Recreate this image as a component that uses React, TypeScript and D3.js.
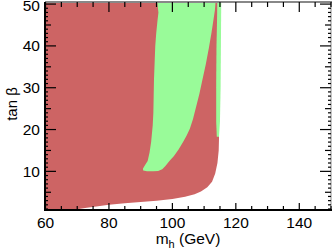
import React from "react";
import { scaleLinear, line, curveLinear, range } from "d3";

type Pt = [number, number];

// allowed (red) region: bottom edge and right edge, [m_h, tan beta]
const redEdge: Pt[] = [
  [70.5, 1.0], [73, 1.3], [76, 1.6], [80, 2.0], [85, 2.35], [90, 2.65],
  [95, 3.0], [100, 3.4], [104, 3.9], [107, 4.5], [109, 5.2], [111, 6.2],
  [112.5, 7.5], [113.5, 9.5], [114.2, 12], [114.6, 15], [114.7, 18],
  [114.5, 30], [114.4, 40], [114.3, 50.5],
];

// green region in the middle
const greenMain: Pt[] = [
  [95.2, 50.5], [95.6, 48], [95.3, 46], [94.9, 43], [94.6, 40], [94.4, 36],
  [94.2, 32], [94.1, 28], [94.0, 24], [93.8, 21], [93.3, 17], [92.8, 14.5],
  [92.2, 12.5], [91.3, 11.4], [90.7, 10.6], [90.8, 10.2], [92, 10.0],
  [94, 10.0], [95.5, 10.1], [96.8, 10.5], [97.8, 11.3], [99, 12.4],
  [100.5, 13.7], [102, 15.3], [103.5, 17.2], [104.5, 18.6], [105.5, 20.2],
  [106.5, 22.5], [107.5, 25.5], [108.5, 28.5], [109.5, 32], [110.5, 35.5],
  [111.5, 39.5], [112.3, 43], [113, 46.5], [113.4, 48.5], [113.6, 50.5],
];

// thin green strip right of the red wedge
const greenStrip: Pt[] = [
  [114.0, 18.3], [114.7, 18.3], [115.0, 22], [115.2, 30], [115.3, 40],
  [115.4, 50.5], [114.2, 50.5], [113.9, 40], [113.8, 30], [113.8, 22],
];

const xTicks = [60, 80, 100, 120, 140];
const yTicks = [10, 20, 30, 40, 50];

const W = 332;
const H = 249;
const font = "'Liberation Sans', Arial, Helvetica, sans-serif";

export default function App() {
  const x = scaleLinear().domain([60, 150]).range([45.5, 331]);
  const y = scaleLinear().domain([1, 50.5]).range([209, 2]);

  const path = line<Pt>()
    .x((d) => x(d[0]))
    .y((d) => y(d[1]))
    .curve(curveLinear);

  const redPoly: Pt[] = [[60, 50.5], [60, 1], ...redEdge];

  const xMinor = range(60, 151, 5);
  const yMinor = range(1, 51, 1);

  return (
    <svg
      width={W}
      height={H}
      style={{ position: "fixed", left: 0, top: 0, background: "#fff" }}
      fontFamily={font}
    >
      <path d={path(redPoly) + "Z"} fill="#cd6464" />
      <path d={path(greenMain) + "Z"} fill="#99fb99" />
      <path d={path(greenStrip) + "Z"} fill="#99fb99" />

      {/* frame: gray top/right, black left/bottom */}
      <line x1={45} x2={W} y1={2} y2={2} stroke="#888" strokeWidth={2} />
      <line x1={331} x2={331} y1={2} y2={210} stroke="#888" strokeWidth={1} />

      {/* bottom and top ticks */}
      {xMinor.map((v) => {
        const major = v % 20 === 0;
        return (
          <g key={"xt" + v}>
            <line x1={x(v)} x2={x(v)} y1={210} y2={210 - (major ? 7 : 4)} stroke="#000" strokeWidth={1.2} />
            <line x1={x(v)} x2={x(v)} y1={2} y2={2 + (major ? 10 : 5)} stroke="#000" strokeWidth={1.2} />
          </g>
        );
      })}

      {/* left and right ticks */}
      {yMinor.map((v) => {
        const len = v % 10 === 0 ? 11 : v % 5 === 0 ? 6 : 3;
        return (
          <g key={"yt" + v}>
            <line x1={45} x2={45 + len} y1={y(v)} y2={y(v)} stroke="#000" strokeWidth={1.2} />
            <line x1={331} x2={331 - len} y1={y(v)} y2={y(v)} stroke="#000" strokeWidth={1.2} />
          </g>
        );
      })}

      <line x1={45} x2={45} y1={2} y2={211} stroke="#000" strokeWidth={2} />
      <line x1={44} x2={W} y1={210} y2={210} stroke="#000" strokeWidth={2} />

      {xTicks.map((v) => (
        <text key={"xl" + v} x={x(v)} y={228} textAnchor="middle" fontSize={15.5} fill="#000">
          {v}
        </text>
      ))}
      {yTicks.map((v) => (
        <text key={"yl" + v} x={40} y={Math.max(y(v), 5.5)} dy="0.36em" textAnchor="end" fontSize={15.5} fill="#000">
          {v}
        </text>
      ))}

      <text x={188} y={244} textAnchor="middle" fontSize={15.5} fill="#000">
        m<tspan fontSize={11} dy={4}>h</tspan>
        <tspan dy={-4}> (GeV)</tspan>
      </text>

      <text transform="translate(17,104) rotate(-90)" textAnchor="middle" fontSize={15} fill="#000">
        tan β
      </text>
    </svg>
  );
}
